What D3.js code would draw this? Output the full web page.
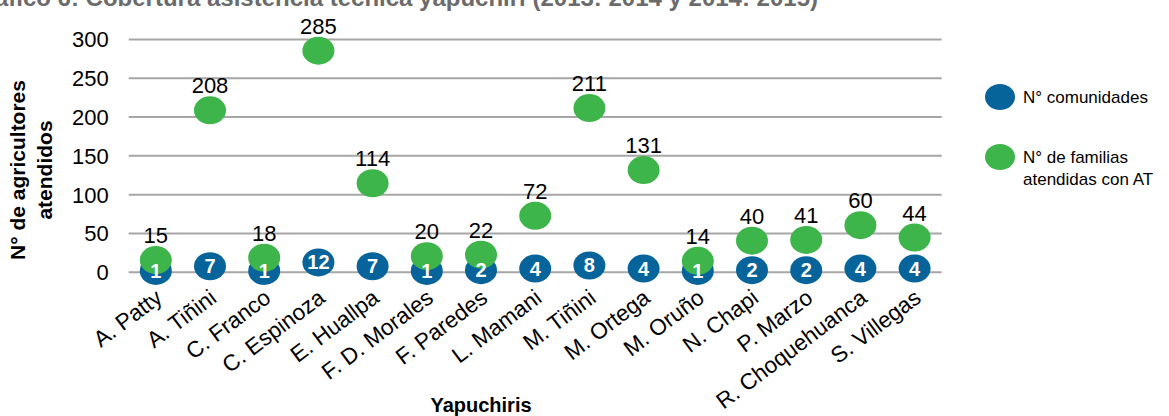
<!DOCTYPE html>
<html>
<head>
<meta charset="utf-8">
<script src="https://cdn.jsdelivr.net/npm/d3@7"></script>
<style>
  html, body { margin: 0; padding: 0; background: #ffffff; }
  svg { display: block; font-family: Arial, "Liberation Sans", sans-serif; }
</style>
</head>
<body>
<div id="chart"></div>
<script>
// Yapuchiris and the two series plotted for each of them
const yapuchiris = ["A. Patty", "A. Tiñini", "C. Franco", "C. Espinoza", "E. Huallpa",
  "F. D. Morales", "F. Paredes", "L. Mamani", "M. Tiñini", "M. Ortega", "M. Oruño",
  "N. Chapi", "P. Marzo", "R. Choquehuanca", "S. Villegas"];
const comunidades = [1, 7, 1, 12, 7, 1, 2, 4, 8, 4, 1, 2, 2, 4, 4];
const familias = [15, 208, 18, 285, 114, 20, 22, 72, 211, 131, 14, 40, 41, 60, 44];
const yTicks = [0, 50, 100, 150, 200, 250, 300];
const seriesNames = ["N° comunidades", "N° de familias atendidas con AT"];
const chartTitle = "Gráfico 6: Cobertura asistencia técnica yapuchiri (2013: 2014 y 2014: 2015)";

const W = 1169, H = 416;
const BLUE = "#07649a", GREEN = "#3db54a", GRID = "#a6a6a6";
const plot = { left: 128.7, right: 941.7, top: 39, bottom: 271.7 };

const svg = d3.select("#chart").append("svg")
  .attr("width", W).attr("height", H);

const x = d3.scaleBand().domain(yapuchiris).range([plot.left, plot.right]);
const y = d3.scaleLinear().domain([0, 300]).range([plot.bottom, plot.top]);
const cx = d => x(d) + x.bandwidth() / 2;

// Title, mostly above the visible area
svg.append("text")
  .attr("x", 818).attr("y", 6)
  .attr("text-anchor", "end")
  .attr("font-weight", "bold").attr("font-size", 24)
  .attr("fill", "#6b6b6b")
  .text(chartTitle);

// Horizontal gridlines and y tick labels
const yAxis = d3.axisLeft(y).tickValues(yTicks)
  .tickSize(-(plot.right - plot.left)).tickPadding(20);
const gy = svg.append("g")
  .attr("transform", `translate(${plot.left},0)`)
  .call(yAxis);
gy.select(".domain").remove();
gy.selectAll(".tick line").attr("stroke", GRID).attr("stroke-width", 2);
gy.selectAll(".tick text")
  .attr("font-size", 22).attr("fill", "#000")
  .attr("font-family", "Arial, 'Liberation Sans', sans-serif")
  .attr("dy", "0.36em");

// Category labels along the bottom, rotated
const xAxis = d3.axisBottom(x).tickSize(0).tickPadding(0);
const gx = svg.append("g")
  .attr("transform", `translate(0,${plot.bottom})`)
  .call(xAxis);
gx.select(".domain").remove();
gx.selectAll(".tick text")
  .attr("font-size", 22.5).attr("fill", "#000")
  .attr("font-family", "Arial, 'Liberation Sans', sans-serif")
  .attr("text-anchor", "end")
  .attr("y", 0).attr("dy", 0)
  .attr("transform", "translate(8,29) rotate(-37)");

// Marker layers
const blueG = svg.append("g");
blueG.selectAll("ellipse").data(yapuchiris).join("ellipse")
  .attr("cx", d => cx(d))
  .attr("cy", (d, i) => y(comunidades[i]))
  .attr("rx", 16).attr("ry", 14)
  .attr("fill", BLUE);

const greenG = svg.append("g");
greenG.selectAll("ellipse").data(yapuchiris).join("ellipse")
  .attr("cx", d => cx(d))
  .attr("cy", (d, i) => y(familias[i]))
  .attr("rx", 16).attr("ry", 14)
  .attr("fill", GREEN);

// Value labels
svg.append("g").selectAll("text").data(yapuchiris).join("text")
  .attr("x", d => cx(d))
  .attr("y", (d, i) => y(comunidades[i]) + 7)
  .attr("text-anchor", "middle")
  .attr("font-weight", "bold").attr("font-size", 20)
  .attr("fill", "#fff")
  .text((d, i) => comunidades[i]);

svg.append("g").selectAll("text").data(yapuchiris).join("text")
  .attr("x", d => cx(d))
  .attr("y", (d, i) => y(familias[i]) - 17)
  .attr("text-anchor", "middle")
  .attr("font-size", 22)
  .attr("fill", "#000")
  .text((d, i) => familias[i]);

// Axis titles
svg.append("text")
  .attr("transform", "translate(25,170) rotate(-90)")
  .attr("text-anchor", "middle")
  .attr("font-weight", "bold").attr("font-size", 21)
  .attr("fill", "#000")
  .text("N° de agricultores");
svg.append("text")
  .attr("transform", "translate(52,170) rotate(-90)")
  .attr("text-anchor", "middle")
  .attr("font-weight", "bold").attr("font-size", 21)
  .attr("fill", "#000")
  .text("atendidos");

svg.append("text")
  .attr("x", 481).attr("y", 412)
  .attr("text-anchor", "middle")
  .attr("font-weight", "bold").attr("font-size", 20)
  .attr("fill", "#000")
  .text("Yapuchiris");

// Legend
const legend = svg.append("g").attr("font-size", 17);
const legendRows = [
  { color: BLUE, cy: 97, lines: [seriesNames[0]] },
  { color: GREEN, cy: 157, lines: ["N° de familias", "atendidas con AT"] }
];
legendRows.forEach(r => {
  legend.append("ellipse")
    .attr("cx", 1000).attr("cy", r.cy)
    .attr("rx", 15).attr("ry", 13)
    .attr("fill", r.color);
  r.lines.forEach((t, k) => {
    legend.append("text")
      .attr("x", 1023).attr("y", r.cy + 6 + k * 22)
      .attr("fill", "#000")
      .text(t);
  });
});
</script>
</body>
</html>
